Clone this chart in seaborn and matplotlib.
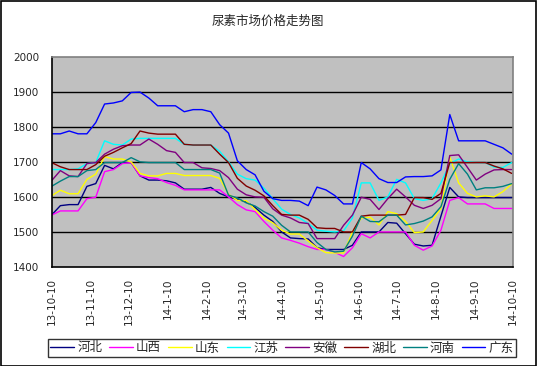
import numpy as np
import pandas as pd
import matplotlib
matplotlib.use("Agg")
import matplotlib.pyplot as plt
import seaborn as sns

# ---- data (weekly observations, 2013-10-10 .. 2014-10-09) ----
dates = pd.date_range("2013-10-10", periods=53, freq="7D")

hebei = [1548, 1575, 1578, 1578, 1630, 1638, 1690, 1680, 1698, 1698, 1660, 1648, 1648,
         1646, 1640, 1622, 1622, 1622, 1627, 1610, 1600, 1593, 1586, 1570, 1548, 1530,
         1500, 1483, 1481, 1480, 1455, 1450, 1450, 1450, 1462, 1500, 1500, 1500, 1527,
         1525, 1495, 1465, 1460, 1462, 1545, 1627, 1600, 1598, 1598, 1598, 1598, 1598, 1598]
shanxi = [1548, 1560, 1560, 1560, 1595, 1599, 1672, 1678, 1695, 1698, 1660, 1655, 1652,
          1641, 1633, 1620, 1620, 1620, 1620, 1620, 1600, 1578, 1563, 1558, 1530, 1505,
          1483, 1476, 1468, 1458, 1450, 1450, 1442, 1430, 1455, 1495, 1483, 1500, 1500,
          1500, 1500, 1462, 1448, 1460, 1505, 1590, 1598, 1580, 1580, 1580, 1567, 1567, 1567]
shandong = [1603, 1619, 1609, 1609, 1650, 1665, 1715, 1708, 1708, 1700, 1667, 1660, 1660,
            1667, 1667, 1661, 1661, 1661, 1661, 1653, 1608, 1590, 1589, 1564, 1539, 1526,
            1505, 1494, 1494, 1474, 1455, 1441, 1440, 1440, 1500, 1540, 1542, 1520, 1558,
            1552, 1530, 1498, 1500, 1533, 1567, 1714, 1640, 1610, 1600, 1603, 1600, 1615, 1637]
jiangsu = [1678, 1678, 1678, 1680, 1695, 1698, 1760, 1750, 1748, 1765, 1767, 1767, 1767,
           1767, 1767, 1750, 1748, 1748, 1748, 1730, 1700, 1665, 1652, 1648, 1625, 1595,
           1565, 1550, 1540, 1524, 1505, 1502, 1500, 1503, 1540, 1640, 1640, 1590, 1600,
           1650, 1640, 1595, 1590, 1595, 1640, 1695, 1708, 1700, 1698, 1698, 1685, 1684, 1698]
anhui = [1646, 1675, 1660, 1658, 1695, 1698, 1722, 1736, 1746, 1748, 1748, 1765, 1750,
         1732, 1727, 1698, 1698, 1683, 1681, 1675, 1655, 1622, 1606, 1600, 1599, 1566,
         1548, 1540, 1527, 1524, 1481, 1481, 1481, 1519, 1548, 1599, 1593, 1564, 1595,
         1622, 1600, 1576, 1567, 1576, 1595, 1718, 1720, 1684, 1648, 1665, 1677, 1678, 1678]
hubei = [1698, 1686, 1678, 1678, 1678, 1692, 1716, 1727, 1740, 1752, 1788, 1782, 1779,
         1779, 1779, 1750, 1748, 1748, 1748, 1722, 1698, 1653, 1631, 1619, 1603, 1575,
         1550, 1548, 1548, 1536, 1512, 1510, 1510, 1500, 1500, 1545, 1548, 1548, 1548,
         1548, 1550, 1598, 1598, 1593, 1610, 1698, 1698, 1698, 1698, 1698, 1688, 1680, 1667]
henan = [1630, 1645, 1658, 1658, 1675, 1678, 1698, 1698, 1698, 1712, 1700, 1698, 1698,
         1698, 1698, 1678, 1678, 1678, 1678, 1668, 1605, 1597, 1583, 1574, 1558, 1545,
         1519, 1500, 1500, 1500, 1470, 1450, 1443, 1445, 1488, 1545, 1530, 1529, 1548,
         1548, 1520, 1524, 1531, 1543, 1572, 1650, 1695, 1665, 1620, 1626, 1626, 1630, 1638]
guangdong = [1780, 1780, 1788, 1780, 1780, 1812, 1865, 1868, 1874, 1898, 1899, 1882, 1860,
             1860, 1860, 1843, 1849, 1849, 1843, 1806, 1782, 1703, 1678, 1663, 1616, 1595,
             1590, 1590, 1588, 1575, 1628, 1620, 1604, 1580, 1580, 1698, 1680, 1652, 1641,
             1641, 1657, 1658, 1658, 1660, 1677, 1835, 1760, 1760, 1760, 1760, 1750, 1740, 1722]

names = ["河北", "山西", "山东", "江苏", "安徽", "湖北", "河南", "广东"]
series = [hebei, shanxi, shandong, jiangsu, anhui, hubei, henan, guangdong]
colors = ["#000080", "#FF00FF", "#FFFF00", "#00FFFF", "#800080", "#800000", "#008080", "#0000FF"]
tick_dates = ["2013-10-10", "2013-11-10", "2013-12-10", "2014-01-10", "2014-02-10",
              "2014-03-10", "2014-04-10", "2014-05-10", "2014-06-10", "2014-07-10",
              "2014-08-10", "2014-09-10", "2014-10-10"]
title = "尿素市场价格走势图"

df = pd.concat([pd.DataFrame({"date": dates, "price": v, "province": n})
                for n, v in zip(names, series)], ignore_index=True)

sns.set_style("white")
plt.rcParams["font.family"] = ["Noto Sans CJK SC", "DejaVu Sans"]

fig = plt.figure(figsize=(5.37, 3.66), dpi=100)
ax = fig.add_axes([51.5 / 537, 1 - 267 / 366, (513 - 51.5) / 537, (267 - 56.7) / 366])
ax.set_facecolor("#C0C0C0")

sns.lineplot(data=df, x="date", y="price", hue="province", hue_order=names,
             palette=dict(zip(names, colors)), linewidth=1.0, ax=ax, legend=False,
             estimator=None, sort=False)

ax.set_ylim(1400, 2000)
ax.set_yticks([1400, 1500, 1600, 1700, 1800, 1900, 2000])
ax.set_xlim(pd.Timestamp(tick_dates[0]), pd.Timestamp(tick_dates[-1]))
ax.grid(False)
for yv in [1500, 1600, 1700, 1800, 1900]:
    ax.axhline(yv, color="black", linewidth=1.0, zorder=0.5)

tds = [pd.Timestamp(t) for t in tick_dates]
ax.set_xticks(tds)
ax.set_xticklabels([f"{t.year % 100}-{t.month}-{t.day}" for t in tds],
                   rotation=90, fontsize=7.5, family="DejaVu Sans")
ax.tick_params(axis="x", direction="out", length=4, width=1, color="black", pad=4)
ax.tick_params(axis="y", direction="out", length=0, pad=9, labelsize=7.5)
for lab in ax.get_yticklabels():
    lab.set_family("DejaVu Sans")
ax.set_xlabel("")
ax.set_ylabel("")

for s in ["left", "bottom"]:
    ax.spines[s].set_color("black")
    ax.spines[s].set_linewidth(1.2)
for s in ["top", "right"]:
    ax.spines[s].set_color("#808080")
    ax.spines[s].set_linewidth(1.2)

fig.text(268 / 537, 1 - 21 / 366, title, ha="center", va="center", fontsize=9)

handles = [plt.Line2D([], [], color=c, linewidth=1.0) for c in colors]
leg = fig.legend(handles, names, loc="center", ncol=8,
                 bbox_to_anchor=(282 / 537, 1 - 348 / 366), frameon=True, fancybox=False,
                 edgecolor="black", fontsize=9, handlelength=1.9, handletextpad=0.25,
                 columnspacing=0.55, borderpad=0.2, borderaxespad=0)
leg.get_frame().set_linewidth(1.0)

fig.patches.append(plt.Rectangle((0.001, 0.001), 0.997, 0.997, transform=fig.transFigure,
                                 fill=False, edgecolor="black", linewidth=1.2))

fig.savefig("out.png", dpi=100, facecolor="white")
